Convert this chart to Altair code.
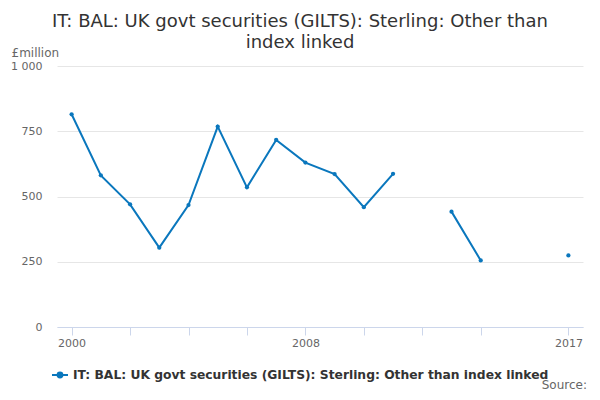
import altair as alt
import pandas as pd

years = list(range(2000, 2018))
values = [815, 581, 470, 304, 467, 768, 535, 717, 630, 586, 459, 587,
          None, 442, 255, None, None, 274]
series_name = 'IT: BAL: UK govt securities (GILTS): Sterling: Other than index linked'
title_lines = ['IT: BAL: UK govt securities (GILTS): Sterling: Other than', 'index linked']
y_ticks = [0, 250, 500, 750, 1000]
x_ticks = [2000, 2002, 2004, 2006, 2008, 2010, 2012, 2014, 2017]
x_labels = [2000, 2008, 2017]

df = pd.DataFrame({'Year': years, 'Value': values, 'Series': series_name})

font = 'DejaVu Sans'
blue = '#0a77bd'

label_test = ' || '.join('datum.value == %d' % v for v in x_labels)

base = alt.Chart(df).encode(
    alt.X('Year:Q', title=None,
          scale=alt.Scale(domain=[1999.5, 2017.5], nice=False, zero=False),
          axis=alt.Axis(values=x_ticks, labelExpr="(%s) ? datum.label : ''" % label_test,
                        format='d', grid=False, domainColor='#ccd6eb', tickColor='#ccd6eb',
                        tickSize=8, labelColor='#666666', labelFontSize=11, labelFont=font,
                        labelPadding=2, labelFlush=False, labelOverlap=False)),
    alt.Y('Value:Q', title='£million',
          scale=alt.Scale(domain=[0, 1000], nice=False),
          axis=alt.Axis(values=y_ticks, format=',d', labelExpr="replace(datum.label, ',', ' ')",
                        domain=False, ticks=False, gridColor='#e6e6e6', labelColor='#666666',
                        labelFontSize=11, labelFont=font, labelPadding=15,
                        titleAngle=0, titleAlign='left', titleBaseline='middle',
                        titleX=-46, titleY=-14, titleColor='#666666', titleFontSize=12,
                        titleFont=font, titleFontWeight='normal')),
    color=alt.Color('Series:N', scale=alt.Scale(range=[blue]),
                    legend=alt.Legend(title=None, orient='none', legendX=-6, legendY=300,
                                      symbolType='M-1,0H1M-0.3,0A0.3,0.3 0 1,1 0.3,0A0.3,0.3 0 1,1 -0.3,0',
                                      symbolSize=256, symbolStrokeWidth=2, symbolFillColor=blue,
                                      labelFont=font, labelFontSize=12.3, labelFontWeight='bold',
                                      labelColor='#333333', labelLimit=600))
)

line = base.mark_line(strokeWidth=2, point=alt.OverlayMarkDef(size=18, filled=True, color=blue))

source = alt.Chart(pd.DataFrame({'t': ['Source:']})).mark_text(
    font=font, fontSize=12, color='#666666', align='right', baseline='middle'
).encode(x=alt.value(530), y=alt.value(319), text='t:N')

chart = alt.layer(line, source).properties(
    width=526, height=261,
    padding={'left': 49, 'top': 58, 'right': 9, 'bottom': 65},
    autosize='none',
    title=alt.TitleParams(title_lines, anchor='middle', frame='group', dx=-20, offset=-6,
                          font=font, fontSize=18, fontWeight='normal', color='#333333',
                          lineHeight=21)
).configure_view(stroke=None)

chart.save('out.html', embed_options={'renderer': 'svg', 'actions': False})
